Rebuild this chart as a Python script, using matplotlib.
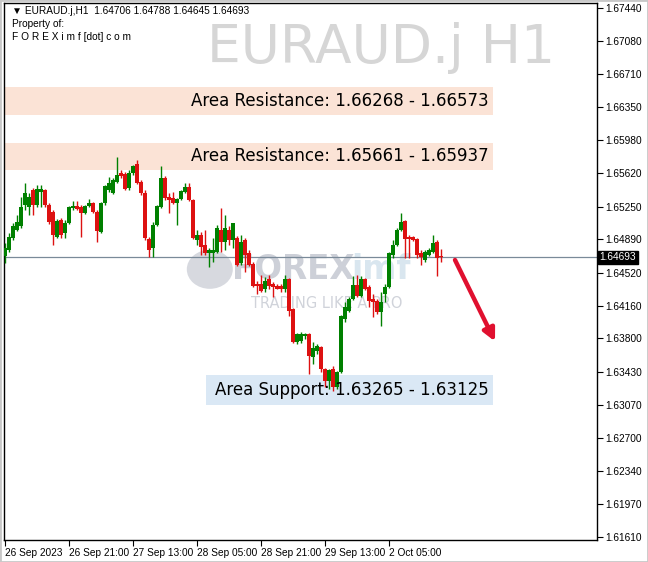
import matplotlib.pyplot as plt
from matplotlib.patches import Rectangle, Ellipse

# hourly candles, EURAUD.j H1 (26 Sep 2023 -> 2 Oct 2023)
opens = [1.64712, 1.64778, 1.64910, 1.64998, 1.65042, 1.65273, 1.65251, 1.65438, 1.65273, 1.65416,
         1.65438, 1.65273, 1.65196, 1.64921, 1.65108, 1.64965, 1.65075, 1.65240, 1.65262, 1.65251,
         1.65185, 1.65262, 1.65295, 1.65196, 1.64976, 1.65295, 1.65438, 1.65405, 1.65526, 1.65625,
         1.65614, 1.65460, 1.65625, 1.65724, 1.65526, 1.65405, 1.64899, 1.64800, 1.65053, 1.65251,
         1.65570, 1.65361, 1.65350, 1.65295, 1.65339, 1.65416, 1.65471, 1.65328, 1.64888, 1.64943,
         1.64833, 1.64745, 1.64745, 1.64756, 1.64998, 1.64866, 1.64998, 1.64888, 1.64910, 1.64635,
         1.64888, 1.64745, 1.64624, 1.64393, 1.64393, 1.64338, 1.64448, 1.64393, 1.64371, 1.64371,
         1.64338, 1.64448, 1.64118, 1.63755, 1.63766, 1.63821, 1.63843, 1.63590, 1.63656, 1.63700,
         1.63458, 1.63326, 1.63458, 1.63260, 1.63425, 1.64008, 1.64096, 1.64228, 1.64382, 1.64261,
         1.64448, 1.64360, 1.64228, 1.64206, 1.64085, 1.64283, 1.64360, 1.64723, 1.64833, 1.64998,
         1.65097, 1.64921, 1.64921, 1.64899, 1.64745, 1.64668, 1.64723, 1.64756, 1.64866, 1.64706]
highs = [1.64855, 1.64965, 1.65075, 1.65163, 1.65361, 1.65515, 1.65405, 1.65460, 1.65493, 1.65493,
         1.65449, 1.65295, 1.65218, 1.65119, 1.65130, 1.65108, 1.65262, 1.65317, 1.65317, 1.65273,
         1.65273, 1.65339, 1.65306, 1.65218, 1.65306, 1.65493, 1.65581, 1.65570, 1.65801, 1.65658,
         1.65636, 1.65658, 1.65713, 1.65768, 1.65548, 1.65438, 1.64921, 1.65086, 1.65273, 1.65702,
         1.65592, 1.65405, 1.65416, 1.65350, 1.65438, 1.65515, 1.65515, 1.65339, 1.64998, 1.64976,
         1.64998, 1.64800, 1.64910, 1.65053, 1.65240, 1.65163, 1.65042, 1.65075, 1.64932, 1.64943,
         1.64910, 1.64778, 1.64646, 1.64426, 1.64492, 1.64470, 1.64492, 1.64415, 1.64393, 1.64393,
         1.64492, 1.64459, 1.64129, 1.63854, 1.63865, 1.63854, 1.63854, 1.63755, 1.63733, 1.63711,
         1.63469, 1.63458, 1.63491, 1.63436, 1.64052, 1.64195, 1.64250, 1.64481, 1.64492, 1.64481,
         1.64459, 1.64382, 1.64283, 1.64228, 1.64305, 1.64393, 1.64756, 1.64888, 1.65020, 1.65185,
         1.65108, 1.64943, 1.64932, 1.64910, 1.64778, 1.64778, 1.64800, 1.64943, 1.64888, 1.64788]
lows = [1.64635, 1.64756, 1.64888, 1.64987, 1.65020, 1.65218, 1.65163, 1.65163, 1.65251, 1.65251,
        1.65251, 1.65064, 1.64833, 1.64910, 1.64910, 1.64910, 1.65064, 1.65218, 1.65218, 1.64921,
        1.65174, 1.65251, 1.65185, 1.64866, 1.64965, 1.65273, 1.65416, 1.65394, 1.65515, 1.65570,
        1.65438, 1.65438, 1.65603, 1.65504, 1.65383, 1.64888, 1.64701, 1.64701, 1.65042, 1.65240,
        1.65328, 1.65185, 1.65284, 1.65053, 1.65328, 1.65405, 1.65317, 1.64899, 1.64833, 1.64723,
        1.64723, 1.64591, 1.64646, 1.64745, 1.64756, 1.64778, 1.64833, 1.64800, 1.64602, 1.64613,
        1.64536, 1.64602, 1.64360, 1.64283, 1.64305, 1.64305, 1.64338, 1.64250, 1.64338, 1.64305,
        1.64305, 1.64041, 1.63744, 1.63733, 1.63744, 1.63788, 1.63403, 1.63513, 1.63623, 1.63425,
        1.63260, 1.63238, 1.63216, 1.63238, 1.63414, 1.63975, 1.64085, 1.64217, 1.64250, 1.64250,
        1.64327, 1.64140, 1.64030, 1.64063, 1.63931, 1.64195, 1.64349, 1.64690, 1.64822, 1.64987,
        1.64690, 1.64690, 1.64877, 1.64690, 1.64613, 1.64646, 1.64712, 1.64745, 1.64481, 1.64645]
closes = [1.64800, 1.64921, 1.65042, 1.65086, 1.65251, 1.65405, 1.65361, 1.65273, 1.65449, 1.65449,
          1.65273, 1.65086, 1.64943, 1.65097, 1.64943, 1.65075, 1.65251, 1.65262, 1.65229, 1.65185,
          1.65262, 1.65295, 1.65196, 1.64987, 1.65295, 1.65482, 1.65515, 1.65548, 1.65603, 1.65592,
          1.65449, 1.65625, 1.65702, 1.65515, 1.65405, 1.64910, 1.64778, 1.65053, 1.65262, 1.65570,
          1.65350, 1.65328, 1.65295, 1.65339, 1.65427, 1.65471, 1.65328, 1.64910, 1.64943, 1.64811,
          1.64745, 1.64778, 1.64778, 1.65020, 1.64866, 1.65020, 1.64888, 1.65075, 1.64613, 1.64866,
          1.64723, 1.64613, 1.64371, 1.64371, 1.64316, 1.64426, 1.64371, 1.64360, 1.64338, 1.64338,
          1.64448, 1.64096, 1.63755, 1.63843, 1.63843, 1.63843, 1.63601, 1.63689, 1.63711, 1.63458,
          1.63326, 1.63447, 1.63260, 1.63425, 1.64041, 1.64140, 1.64228, 1.64382, 1.64261, 1.64448,
          1.64338, 1.64206, 1.64195, 1.64085, 1.64195, 1.64360, 1.64745, 1.64833, 1.64998, 1.65086,
          1.64899, 1.64899, 1.64888, 1.64723, 1.64701, 1.64756, 1.64778, 1.64855, 1.64690, 1.64693]

last_price = 1.64693
price_ticks = [1.67440, 1.67080, 1.66710, 1.66350, 1.65980, 1.65620, 1.65250, 1.64890, 1.64520,
               1.64160, 1.63800, 1.63430, 1.63070, 1.62700, 1.62340, 1.61970, 1.61610]
time_ticks = [0, 16, 32, 48, 64, 80, 96]
time_labels = ['26 Sep 2023', '26 Sep 21:00', '27 Sep 13:00', '28 Sep 05:00',
               '28 Sep 21:00', '29 Sep 13:00', '2 Oct 05:00']

# zones (price range as drawn on chart, label text)
zones = [
    (1.66261, 1.66569, 0, 122, '#fbe3d6', 'Area Resistance: 1.66268 - 1.66573'),
    (1.65655, 1.65952, 0, 122, '#fbe3d6', 'Area Resistance: 1.65661 - 1.65937'),
    (1.63065, 1.63395, 50.3, 122, '#dae8f5', 'Area Support: 1.63265 - 1.63125'),
]

small = ['Liberation Sans', 'DejaVu Sans']

fig = plt.figure(figsize=(6.48, 5.62), dpi=100)
ax = fig.add_axes([4 / 648, 22 / 562, 593 / 648, 537 / 562])
ax.set_xlim(-0.25, 148)
ax.set_ylim(1.61577, 1.67495)

# watermark symbol
ax.text(137.5, 1.6700, 'EURAUD.j H1', fontsize=38.5, color='#d6d6d6', ha='right', va='center',
        family='DejaVu Sans', zorder=0)

# FOREXimf logo watermark
ax.add_patch(Ellipse((51.2, 1.64560), 11.5, 0.0043, color='#cdd0d8', alpha=0.8, lw=0, zorder=0))
ax.text(56.75, 1.64560, 'FOREX', fontsize=23.5, fontweight='bold', color='#cdd0d8', ha='left',
        va='center', zorder=0)
ax.text(86.5, 1.64560, 'imf', fontsize=23.5, fontweight='bold', color='#d9e6ef', ha='left',
        va='center', zorder=0)
ax.text(61.5, 1.64180, 'TRADING LIKE A PRO', fontsize=10.5, color='#d0d3da',
        ha='left', va='center', zorder=0)

# zones
for lo, hi, x0, x1, col, label in zones:
    ax.add_patch(Rectangle((x0, lo), x1 - x0, hi - lo, facecolor=col, edgecolor='none', zorder=1))
    ax.text(x1 - 1, (lo + hi) / 2, label, fontsize=12, ha='right', va='center', color='black', zorder=5)

# current price line
ax.axhline(last_price, color='#7a8a99', lw=0.9, zorder=2)

# candles
for i in range(len(opens)):
    o, h, l, c = opens[i], highs[i], lows[i], closes[i]
    col = '#008000' if c >= o else '#dd1111'
    ax.vlines(i, l, h, color=col, lw=1, zorder=3)
    ax.bar(i, max(abs(c - o), 0.00004), bottom=min(o, c), width=0.8, color=col, lw=0, zorder=4)

# arrow
ax.annotate('', xy=(122.5, 1.63766), xytext=(112.5, 1.64663),
            arrowprops=dict(arrowstyle='-|>', color='#e0102f', lw=3.2, mutation_scale=18,
                            shrinkA=0, shrinkB=0), zorder=6)

# axes
ax.yaxis.tick_right()
ax.set_yticks(price_ticks)
ax.set_yticklabels(['%.5f' % p for p in price_ticks], family=small)
ax.set_xticks(time_ticks)
ax.set_xticklabels(time_labels, ha='left', family=small)
ax.tick_params(axis='both', labelsize=7.3, length=4, width=0.8, pad=2, colors='black')
for spine in ax.spines.values():
    spine.set_linewidth(1)

ax.text(1.004, last_price, '%.5f' % last_price, transform=ax.get_yaxis_transform(),
        fontsize=7.3, color='white', ha='left', va='center', family=small,
        bbox=dict(facecolor='black', edgecolor='black', pad=1.2))

# header
fig.text(12 / 648, 1 - 11 / 562, '\u25bc EURAUD.j,H1  1.64706 1.64788 1.64645 1.64693',
         fontsize=7.3, va='center', family=small)
fig.text(12 / 648, 1 - 24 / 562, 'Property of:', fontsize=7.3, va='center', family=small)
fig.text(12 / 648, 1 - 37 / 562, 'F O R E X i m f [dot] c o m', fontsize=7.3, va='center', family=small)

# window frame
fig.add_artist(Rectangle((0, 0), 1, 1, transform=fig.transFigure, fill=False,
                         edgecolor='#c8c8c8', lw=2))

fig.savefig('out.png', dpi=100)
